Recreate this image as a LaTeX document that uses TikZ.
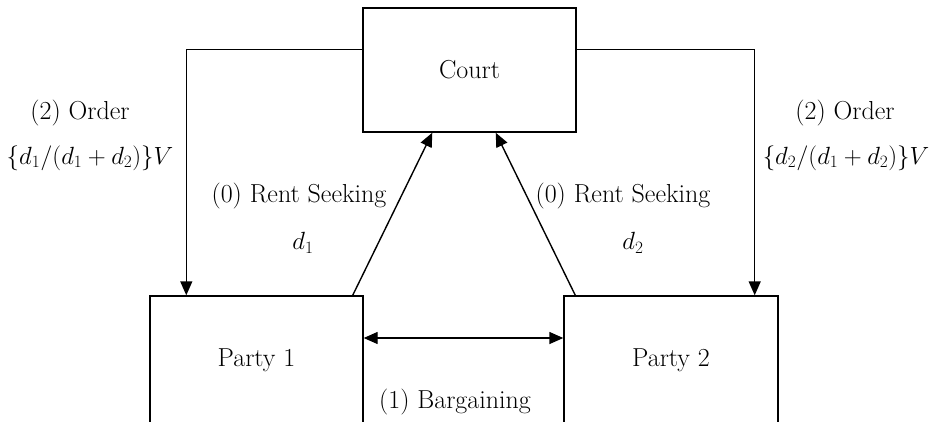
\documentclass[tikz,border=0pt]{standalone}
\usetikzlibrary{arrows.meta}
\begin{document}
\begin{tikzpicture}[x=1pt,y=-1pt,
  box/.style={draw,line width=1.4pt,rectangle,inner sep=0pt,font=\fontsize{26}{30}\selectfont},
  arr/.style={line width=1.4pt,-{Triangle[length=14pt,width=12pt]}},
  darr/.style={line width=1.4pt,{Triangle[length=14pt,width=12pt]}-{Triangle[length=14pt,width=12pt]}},
  lbl/.style={inner sep=0pt,font=\fontsize{26}{30}\selectfont},
  mlbl/.style={inner sep=0pt,font=\fontsize{23}{27}\selectfont}]
\useasboundingbox (0,0) rectangle (931,421);
\clip (0,0) rectangle (931,421);
\node[box,minimum width=213pt,minimum height=124pt] (court) at (469.5,70) {Court};
\node[box,minimum width=213pt,minimum height=128pt] (p1) at (256.5,360) {Party 1};
\node[box,minimum width=214pt,minimum height=128pt] (p2) at (671,360) {Party 2};
\draw[arr] ([yshift=-42pt]court.north west) -| ([xshift=37pt]p1.north west);
\draw[arr] ([yshift=-42pt]court.north east) -| ([xshift=-24pt]p2.north east);
\draw[arr] ([xshift=-11pt]p1.north east) -- ([xshift=70pt]court.south west);
\draw[arr] ([xshift=12pt]p2.north west) -- ([xshift=-81pt]court.south east);
\draw[darr] ([yshift=22pt]p1.east) -- ([yshift=22pt]p2.west);
\node[lbl] (o1) at (80,113) {(2) Order};
\node[mlbl] (f1) at (90,158) {$\{d_1/(d_1+d_2)\}V$};
\node[lbl] (o2) at (845,113) {(2) Order};
\node[mlbl] (f2) at (846,158) {$\{d_2/(d_1+d_2)\}V$};
\node[lbl] (r1) at (299,196) {(0) Rent Seeking};
\node[mlbl] (d1) at (303,243) {$d_1$};
\node[lbl] (r2) at (623,196) {(0) Rent Seeking};
\node[mlbl] (d2) at (633,243) {$d_2$};
\node[lbl] (bg) at (455,402) {(1) Bargaining};
\end{tikzpicture}
\end{document}
